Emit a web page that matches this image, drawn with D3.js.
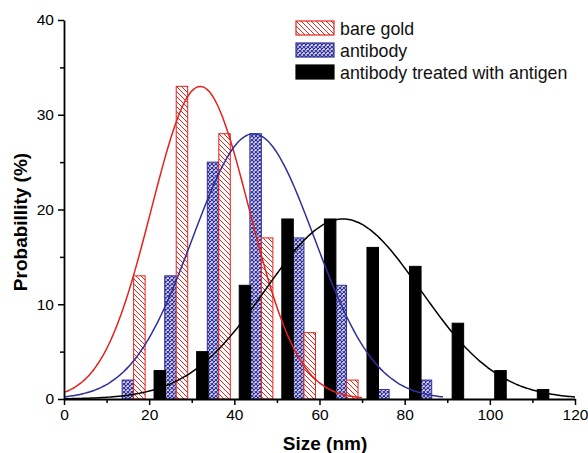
<!DOCTYPE html>
<html>
<head>
<meta charset="utf-8">
<script src="https://cdn.jsdelivr.net/npm/d3@7"></script>
<style>
  body { margin: 0; background: #fff; }
  svg { display: block; font-family: "Liberation Sans", Arial, sans-serif; }
</style>
</head>
<body>
<svg id="canvas" width="588" height="453"></svg>
<script>
// bin centres (nm) and probabilities (%)
let goldX = [17.7, 27.7, 37.7, 47.7, 57.7, 67.7]
let goldY = [13, 33, 28, 17, 7, 2]
let antibodyX = [15, 25, 35, 45, 55, 65, 75, 85]
let antibodyY = [2, 13, 25, 28, 17, 12, 1, 2]
let antigenX = [22.5, 32.5, 42.5, 52.5, 62.5, 72.5, 82.5, 92.5, 102.5, 112.5]
let antigenY = [3, 5, 12, 19, 19, 16, 14, 8, 3, 1]

// gaussian fit: [amplitude, centre, sigma, last x]
let goldFit = [33, 32, 11.5, 70]
let antibodyFit = [28, 44.5, 14.3, 89]
let antigenFit = [19, 65.5, 18.2, 120]

let legendNames = ['bare gold', 'antibody', 'antibody treated with antigen']
let xTicks = [0, 20, 40, 60, 80, 100, 120]
let yTicks = [0, 10, 20, 30, 40]

let red = '#e3231c'
let blue = '#30309a'

let canvas = d3.select('#canvas')

let xScale = d3.scaleLinear().domain([0, 120]).range([64, 575])
let yScale = d3.scaleLinear().domain([0, 40]).range([399, 20])
let barW = 2.7

let defs = canvas.append('defs')

let hatch = defs.append('pattern')
    .attr('id', 'hatch')
    .attr('patternUnits', 'userSpaceOnUse')
    .attr('width', 5)
    .attr('height', 5)
hatch.append('rect').attr('width', 5).attr('height', 5).attr('fill', '#fff')
hatch.append('path')
    .attr('d', 'M0,0 L5,5 M-1,4 L1,6 M4,-1 L6,1')
    .attr('stroke', red)
    .attr('stroke-width', 1)

let cross = defs.append('pattern')
    .attr('id', 'cross')
    .attr('patternUnits', 'userSpaceOnUse')
    .attr('width', 4)
    .attr('height', 4)
cross.append('rect').attr('width', 4).attr('height', 4).attr('fill', '#e4e4f4')
cross.append('path')
    .attr('d', 'M0,0 L4,4 M4,0 L0,4')
    .attr('stroke', blue)
    .attr('stroke-width', 1.2)

let drawBars = (xs, ys, fill, stroke) => {
    canvas.append('g')
        .selectAll('rect')
        .data(xs.map((x, i) => ({ x: x, y: ys[i] })))
        .enter()
        .append('rect')
        .attr('x', (d) => xScale(d.x - barW / 2))
        .attr('y', (d) => yScale(d.y))
        .attr('width', (d) => xScale(d.x + barW / 2) - xScale(d.x - barW / 2))
        .attr('height', (d) => yScale(0) - yScale(d.y))
        .attr('fill', fill)
        .attr('stroke', stroke)
        .attr('stroke-width', 1)
}

drawBars(antibodyX, antibodyY, 'url(#cross)', blue)
drawBars(goldX, goldY, 'url(#hatch)', red)
drawBars(antigenX, antigenY, '#000', '#000')

let drawFit = (fit, colour) => {
    let pts = d3.range(0, fit[3] + 0.01, 0.5).map((x) => {
        return [x, fit[0] * Math.exp(-Math.pow(x - fit[1], 2) / (2 * fit[2] * fit[2]))]
    })
    let line = d3.line()
        .x((d) => xScale(d[0]))
        .y((d) => yScale(d[1]))
        .curve(d3.curveBasis)
    canvas.append('path')
        .attr('d', line(pts))
        .attr('fill', 'none')
        .attr('stroke', colour)
        .attr('stroke-width', 1.5)
}

drawFit(goldFit, red)
drawFit(antibodyFit, blue)
drawFit(antigenFit, '#000')

// axes
canvas.append('g')
    .attr('transform', 'translate(0,' + yScale(0) + ')')
    .call(d3.axisBottom(xScale).tickValues(xTicks).tickSize(6).tickPadding(4).tickSizeOuter(0))
canvas.append('g')
    .attr('transform', 'translate(0,' + yScale(0) + ')')
    .call(d3.axisBottom(xScale).tickValues(d3.range(10, 120, 20)).tickSize(4).tickFormat('').tickSizeOuter(0))
    .select('.domain').remove()

canvas.append('g')
    .attr('transform', 'translate(' + xScale(0) + ',0)')
    .call(d3.axisLeft(yScale).tickValues(yTicks).tickSize(6).tickPadding(4).tickSizeOuter(0))
canvas.append('g')
    .attr('transform', 'translate(' + xScale(0) + ',0)')
    .call(d3.axisLeft(yScale).tickValues(d3.range(5, 40, 10)).tickSize(4).tickFormat('').tickSizeOuter(0))
    .select('.domain').remove()

canvas.selectAll('.domain').attr('stroke-width', 1.8)
canvas.selectAll('.tick line').attr('stroke-width', 1.5)
canvas.selectAll('.tick text')
    .attr('font-size', 15.5)
    .attr('font-family', '"Liberation Sans", Arial, sans-serif')
    .attr('fill', '#000')

canvas.append('text')
    .text('Size (nm)')
    .attr('x', 325)
    .attr('y', 450)
    .attr('text-anchor', 'middle')
    .attr('font-size', 19)
    .attr('font-weight', 'bold')

canvas.append('text')
    .text('Probabillity (%)')
    .attr('transform', 'translate(27,222) rotate(-90)')
    .attr('text-anchor', 'middle')
    .attr('font-size', 19)
    .attr('font-weight', 'bold')

// legend
let legendFill = ['url(#hatch)', 'url(#cross)', '#000']
let legendStroke = [red, blue, '#000']
let legend = canvas.append('g')
    .selectAll('g')
    .data(legendNames)
    .enter()
    .append('g')
    .attr('transform', (d, i) => 'translate(296,' + (21 + i * 22) + ')')

legend.append('rect')
    .attr('width', 38)
    .attr('height', 14)
    .attr('fill', (d, i) => legendFill[i])
    .attr('stroke', (d, i) => legendStroke[i])
    .attr('stroke-width', 1.2)

legend.append('text')
    .text((d) => d)
    .attr('x', 44)
    .attr('y', 13.5)
    .attr('font-size', 17.8)
    .attr('fill', '#111')
</script>
</body>
</html>
